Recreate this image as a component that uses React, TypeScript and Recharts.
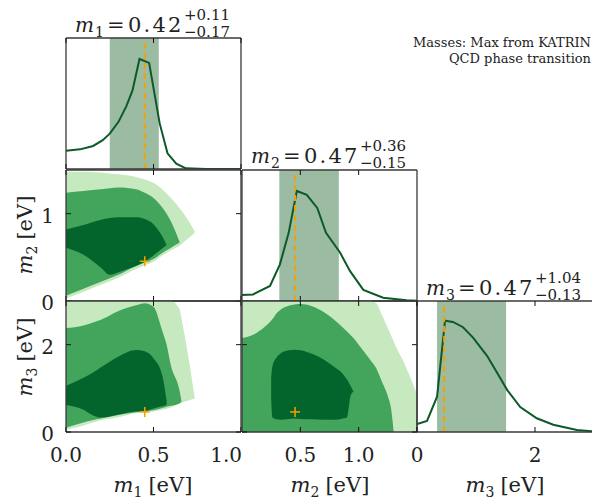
import React from "react";
import {
  ComposedChart,
  Area,
  Line,
  XAxis,
  YAxis,
  ReferenceArea,
  ReferenceLine,
  ReferenceDot,
} from "recharts";

const FONT = "'DejaVu Serif', serif";
const LIGHT = "#c7e9c0";
const MID = "#42a55b";
const DARK = "#04652c";
const PDF_LINE = "#0b5a27";
const BAND = "#9bbca3";
const ORANGE = "#f5a100";
const FRAME = "#3a3a3a";

// summaries from the panel titles
const bestFit = [0.42, 0.47, 0.47];
const errUp = [0.11, 0.36, 1.04];
const errDown = [0.17, 0.15, 0.13];
const trueMass = [0.45, 0.455, 0.46];

// 1D marginals (peak-normalised)
const m1Grid = [0, 0.08, 0.155, 0.21, 0.25, 0.3, 0.345, 0.38, 0.42, 0.475, 0.535, 0.58, 0.63, 0.685, 0.8, 1.0];
const m1Pdf = [0.14, 0.15, 0.176, 0.22, 0.27, 0.36, 0.48, 0.6, 0.84, 0.81, 0.35, 0.12, 0.04, 0.005, 0, 0];

const m2Grid = [0, 0.095, 0.24, 0.325, 0.4, 0.47, 0.555, 0.645, 0.72, 0.84, 0.925, 1.04, 1.21, 1.41, 1.5];
const m2Pdf = [0.045, 0.05, 0.115, 0.28, 0.52, 0.84, 0.81, 0.71, 0.52, 0.37, 0.23, 0.085, 0.025, 0.005, 0.002];

const m3Grid = [0, 0.17, 0.34, 0.475, 0.61, 0.78, 0.95, 1.19, 1.36, 1.53, 1.75, 2.03, 2.31, 2.71, 3.0];
const m3Pdf = [0.06, 0.085, 0.27, 0.85, 0.84, 0.8, 0.72, 0.58, 0.45, 0.32, 0.19, 0.105, 0.055, 0.015, 0.005];

// 2D contours: [low, high] of each filled level at each grid point
const m1m2Grid = [0, 0.1, 0.2, 0.25, 0.3, 0.4, 0.45, 0.5, 0.55, 0.575, 0.6, 0.65, 0.7, 0.735];
const m1m2Light = [[0.03, 1.48], [0.107, 1.48], [0.186, 1.47], [0.227, 1.46], [0.267, 1.45], [0.366, 1.42], [0.41, 1.39], [0.45, 1.35], [0.52, 1.28], [0.55, 1.23], [0.58, 1.18], [0.636, 1.06], [0.72, 0.92], [0.78, 0.8]];
const m1m2Mid = [[0.06, 1.24], [0.14, 1.26], [0.22, 1.28], [0.26, 1.29], [0.3, 1.3], [0.4, 1.28], [0.44, 1.24], [0.48, 1.18], [0.55, 1.07], [0.58, 1.0], [0.61, 0.91], [0.67, 0.67], null, null];
const m1m2Dark = [[0.61, 0.82], [0.53, 0.87], [0.38, 0.93], [0.3, 0.95], [0.33, 0.96], [0.4, 0.96], [0.45, 0.94], [0.52, 0.88], [0.6, 0.74], [0.64, 0.64], null, null, null, null];

const m1m3Grid = [0, 0.1, 0.15, 0.2, 0.3, 0.4, 0.45, 0.5, 0.55, 0.575, 0.6, 0.65, 0.66, 0.7, 0.735];
const m1m3Light = [[0.05, 3], [0.15, 3], [0.21, 3], [0.27, 3], [0.34, 3], [0.43, 3], [0.45, 3], [0.47, 3], [0.51, 3], [0.53, 3], [0.56, 3], [0.66, 2.8], [0.67, 2.6], [0.72, 1.7], [0.76, 0.8]];
const m1m3Mid = [[0.1, 2.38], [0.22, 2.44], [0.27, 2.5], [0.31, 2.57], [0.39, 2.77], [0.45, 2.9], [0.48, 2.95], [0.5, 2.87], [0.55, 2.32], [0.58, 2.0], [0.6, 1.52], [0.66, 0.93], [0.7, 0.7], null, null];
const m1m3Dark = [[0.62, 1.06], [0.51, 1.24], [0.39, 1.35], [0.33, 1.48], [0.4, 1.73], [0.47, 1.88], [0.48, 1.85], [0.54, 1.69], [0.59, 1.3], [0.62, 0.72], null, null, null, null, null];

const m2m3Grid = [0, 0.1, 0.2, 0.25, 0.26, 0.3, 0.33, 0.4, 0.45, 0.5, 0.6, 0.7, 0.8, 0.85, 0.9, 0.93, 0.955, 1.0, 1.1, 1.15, 1.2, 1.25, 1.28, 1.3, 1.4, 1.5];
const m2m3Light = [[0, 3], [0, 3], [0, 3], [0, 3], [0, 3], [0, 3], [0, 3], [0, 3], [0, 3], [0, 3], [0, 3], [0, 3], [0, 3], [0, 3], [0, 3], [0, 3], [0, 3], [0, 3], [0, 3], [0, 2.95], [0, 2.68], [0, 2.38], [0, 2.2], [0, 2.07], [0, 1.52], [0, 0.87]];
const m2m3Mid = [[0, 2.15], [0, 2.23], [0, 2.42], [0, 2.55], [0, 2.58], [0, 2.73], [0, 2.8], [0, 2.89], [0, 2.92], [0, 2.93], [0, 2.88], [0, 2.75], [0, 2.55], [0, 2.43], [0, 2.3], [0, 2.22], [0, 2.15], [0, 2.0], [0, 1.65], [0, 1.46], [0, 1.15], [0, 0.82], [0, 0.5], [0, 0], null, null];
const m2m3Dark = [null, null, null, [0.75, 1.25], [0.34, 1.5], [0.29, 1.72], [0.28, 1.8], [0.3, 1.87], [0.31, 1.885], [0.3, 1.87], [0.29, 1.79], [0.28, 1.66], [0.28, 1.47], [0.3, 1.37], [0.33, 1.2], [0.82, 1.06], [0.93, 0.93], null, null, null, null, null, null, null, null, null];

const pdfRows = (g: number[], p: number[]) => g.map((x, i) => ({ x, p: p[i] }));
const contourRows = (g: number[], l: any[], m: any[], d: any[]) =>
  g.map((x, i) => ({ x, light: l[i], mid: m[i], dark: d[i] }));

const ML = 70, MR = 30, MT = 6, MB = 70;

function XTick(props: any) {
  const { x, y, payload, h, fmt, xMax } = props;
  const label = fmt ? fmt(payload.value) : null;
  const atEnd = payload.value === xMax;
  return (
    <g>
      <line x1={x} x2={x} y1={y} y2={y - 5} stroke="#111" strokeWidth={1} />
      <line x1={x} x2={x} y1={y - h} y2={y - h + 5} stroke="#111" strokeWidth={1} />
      {label != null && (
        <text
          x={atEnd ? x + 1 : x}
          y={y + 30}
          textAnchor={atEnd ? "end" : "middle"}
          fontFamily={FONT}
          fontSize={20}
          fill="#222"
        >
          {label}
        </text>
      )}
    </g>
  );
}

function YTick(props: any) {
  const { x, y, payload, w, fmt } = props;
  const label = fmt ? fmt(payload.value) : null;
  return (
    <g>
      <line x1={x} x2={x + 5} y1={y} y2={y} stroke="#111" strokeWidth={1} />
      <line x1={x + w} x2={x + w - 5} y1={y} y2={y} stroke="#111" strokeWidth={1} />
      {label != null && (
        <text x={x - 12} y={y + 9} textAnchor="end" fontFamily={FONT} fontSize={20} fill="#222">
          {label}
        </text>
      )}
    </g>
  );
}

function Panel({ left, top, w, h, xDomain, yDomain, xTicks, yTicks, xFmt, yFmt, data, children }: any) {
  return (
    <div style={{ position: "absolute", left: left - ML, top: top - MT }}>
      <ComposedChart
        width={w + ML + MR}
        height={h + MT + MB}
        data={data}
        margin={{ top: MT, right: MR, bottom: 0, left: 0 }}
      >
        {children}
        <ReferenceLine x={xDomain[0]} stroke={FRAME} strokeWidth={1.3} />
        <ReferenceLine x={xDomain[1]} stroke={FRAME} strokeWidth={1.3} />
        <ReferenceLine y={yDomain[0]} stroke={FRAME} strokeWidth={1.3} />
        <ReferenceLine y={yDomain[1]} stroke={FRAME} strokeWidth={1.3} />
        <XAxis
          dataKey="x"
          type="number"
          domain={xDomain}
          allowDataOverflow
          ticks={xTicks}
          interval={0}
          height={MB}
          axisLine={false}
          tickLine={false}
          tickSize={0}
          tickMargin={0}
          tick={(p: any) => <XTick {...p} h={h} fmt={xFmt} xMax={xDomain[1]} />}
        />
        <YAxis
          type="number"
          domain={yDomain}
          allowDataOverflow
          ticks={yTicks}
          interval={0}
          width={ML}
          axisLine={false}
          tickLine={false}
          tickSize={0}
          tickMargin={0}
          tick={yTicks ? (p: any) => <YTick {...p} w={w} fmt={yFmt} /> : false}
        />
      </ComposedChart>
    </div>
  );
}

const plus = (p: any) => (
  <g>
    <line x1={p.cx - 5} x2={p.cx + 5} y1={p.cy} y2={p.cy} stroke={ORANGE} strokeWidth={1.5} />
    <line x1={p.cx} x2={p.cx} y1={p.cy - 5} y2={p.cy + 5} stroke={ORANGE} strokeWidth={1.5} />
  </g>
);

function pdfSeries(i: number) {
  return [
    <ReferenceArea key="band" x1={bestFit[i] - errDown[i]} x2={bestFit[i] + errUp[i]} y1={0} y2={1} fill={BAND} fillOpacity={1} stroke="none" />,
    <Line key="pdf" dataKey="p" type="linear" stroke={PDF_LINE} strokeWidth={2} dot={false} activeDot={false} isAnimationActive={false} />,
    <ReferenceLine key="truth" x={trueMass[i]} stroke={ORANGE} strokeWidth={2} strokeDasharray="6 4" />,
  ];
}

function contourSeries(ix: number, iy: number) {
  return [
    <Area key="l" dataKey="light" type="monotone" stroke="none" fill={LIGHT} fillOpacity={1} dot={false} activeDot={false} isAnimationActive={false} />,
    <Area key="m" dataKey="mid" type="monotone" stroke="none" fill={MID} fillOpacity={1} dot={false} activeDot={false} isAnimationActive={false} />,
    <Area key="d" dataKey="dark" type="monotone" stroke="none" fill={DARK} fillOpacity={1} dot={false} activeDot={false} isAnimationActive={false} />,
    <ReferenceDot key="t" x={trueMass[ix]} y={trueMass[iy]} shape={plus} />,
  ];
}

const fmt1 = (v: number) => v.toFixed(1);
const fmt0 = (v: number) => String(v);

const colLeft = [66, 242, 417];
const titleBase = [32, 163, 295];
const subs = ["1", "2", "3"];

function Title({ i }: { i: number }) {
  const L = colLeft[i];
  const B = titleBase[i];
  return (
    <g fontFamily={FONT} fill="#222">
      <text x={L + 9} y={B} fontSize={20} fontStyle="italic">m</text>
      <text x={L + 29} y={B + 5} fontSize={14}>{subs[i]}</text>
      <text x={L + 41} y={B} fontSize={21}>=</text>
      <text x={L + 62} y={B} fontSize={21} letterSpacing={2.2}>{bestFit[i].toFixed(2)}</text>
      <text x={L + 118} y={B - 12} fontSize={15}>{"+" + errUp[i].toFixed(2)}</text>
      <text x={L + 118} y={B + 5} fontSize={15}>{"\u2212" + errDown[i].toFixed(2)}</text>
    </g>
  );
}

function AxisTitle({ x, y, sub, rotate }: any) {
  return (
    <text
      x={x}
      y={y}
      textAnchor="middle"
      fontFamily={FONT}
      fontSize={21}
      fill="#222"
      transform={rotate ? `rotate(-90 ${x} ${y})` : undefined}
    >
      <tspan fontStyle="italic">m</tspan>
      <tspan fontSize={14} dy={5}>{sub}</tspan>
      <tspan dy={-5} dx={6}>[eV]</tspan>
    </text>
  );
}

export default function App() {
  return (
    <div style={{ position: "absolute", left: 0, top: 0, width: 592, height: 502, overflow: "hidden", background: "#fff" }}>
      <Panel left={66} top={38} w={175} h={131} xDomain={[0, 1]} yDomain={[0, 1]} xTicks={[0, 0.5, 1]} data={pdfRows(m1Grid, m1Pdf)}>
        {pdfSeries(0)}
      </Panel>
      <Panel left={66} top={170} w={175} h={131} xDomain={[0, 1]} yDomain={[0, 1.5]} xTicks={[0, 0.5, 1]} yTicks={[0, 1]} yFmt={fmt0}
        data={contourRows(m1m2Grid, m1m2Light, m1m2Mid, m1m2Dark)}>
        {contourSeries(0, 1)}
      </Panel>
      <Panel left={242} top={170} w={175} h={131} xDomain={[0, 1.5]} yDomain={[0, 1]} xTicks={[0.5, 1]} data={pdfRows(m2Grid, m2Pdf)}>
        {pdfSeries(1)}
      </Panel>
      <Panel left={66} top={301} w={175} h={131} xDomain={[0, 1]} yDomain={[0, 3]} xTicks={[0, 0.5, 1]} yTicks={[0, 2]} xFmt={fmt1} yFmt={fmt0}
        data={contourRows(m1m3Grid, m1m3Light, m1m3Mid, m1m3Dark)}>
        {contourSeries(0, 2)}
      </Panel>
      <Panel left={242} top={301} w={175} h={131} xDomain={[0, 1.5]} yDomain={[0, 3]} xTicks={[0.5, 1]} yTicks={[0, 2]} xFmt={fmt1}
        data={contourRows(m2m3Grid, m2m3Light, m2m3Mid, m2m3Dark)}>
        {contourSeries(1, 2)}
      </Panel>
      <Panel left={417} top={301} w={177} h={131} xDomain={[0, 3]} yDomain={[0, 1]} xTicks={[0, 2]} xFmt={fmt0} data={pdfRows(m3Grid, m3Pdf)}>
        {pdfSeries(2)}
      </Panel>
      <svg width={592} height={502} style={{ position: "absolute", left: 0, top: 0, pointerEvents: "none" }}>
        <Title i={0} />
        <Title i={1} />
        <Title i={2} />
        <AxisTitle x={153} y={492} sub="1" />
        <AxisTitle x={330} y={492} sub="2" />
        <AxisTitle x={505} y={492} sub="3" />
        <AxisTitle x={32} y={235} sub="2" rotate />
        <AxisTitle x={32} y={357} sub="3" rotate />
        <g fontFamily={FONT} fontSize={13} fill="#222" textAnchor="end">
          <text x={591} y={47}>Masses: Max from KATRIN</text>
          <text x={591} y={63}>QCD phase transition</text>
        </g>
      </svg>
    </div>
  );
}
